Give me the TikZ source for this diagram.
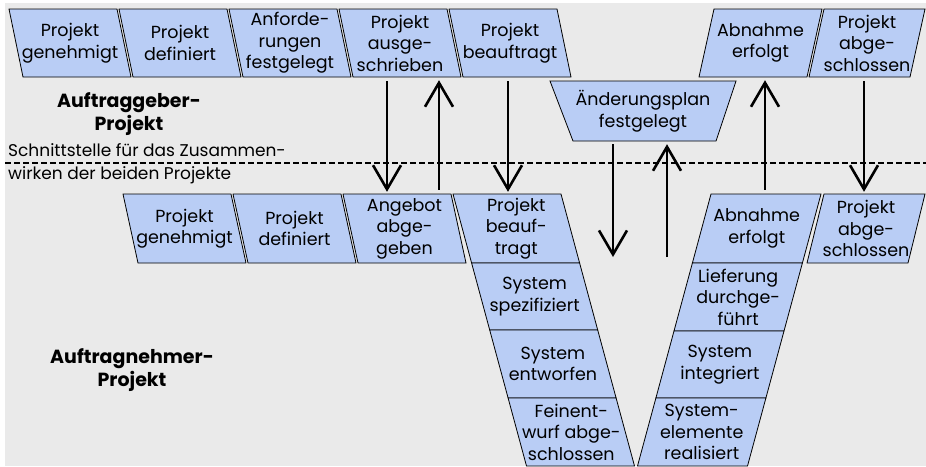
\documentclass[tikz,border=0pt]{standalone}
\usepackage{fontspec}
\setmainfont{Poppins}
\usetikzlibrary{arrows.meta}
\definecolor{bg}{RGB}{234,234,234}
\definecolor{boxblue}{RGB}{185,205,245}
\newcommand\pbox[7]{%
  \draw[box] (#2,#3) -- ++(#4,0) -- ++(#6,#5) -- ++(-#4,0) -- cycle;
  \node[lbl, minimum height=#5pt] (#1) at ({#2+#4/2+#6/2},{#3+#5/2}) {#7};
}
\begin{document}
\begin{tikzpicture}[x=1pt,y=-1pt,
  box/.style={draw=black, fill=boxblue, line width=0.8pt, line join=miter},
  lbl/.style={align=center, font=\fontsize{17.5}{21.5}\selectfont, inner sep=0pt},
  bold/.style={align=center, font=\fontsize{19}{23}\selectfont\bfseries, inner sep=0pt},
  arr/.style={line width=2.6pt, -{Straight Barb[length=24pt,width=28pt,line width=2.6pt]}},
  dashline/.style={line width=1.6pt, dash pattern=on 6pt off 3pt}]
\useasboundingbox (0,0) rectangle (926,466);
\fill[bg] (5,3) rectangle (926,466);
\draw[dashline] (5,163) -- (926,163);
\node[align=left, anchor=west, font=\fontsize{17}{23}\selectfont, inner sep=0pt] (iface) at (8,164) {Schnittstelle für das Zusammen-\\wirken der beiden Projekte};
\node[bold] (ag) at (129,114) {Auftraggeber-\\Projekt};
\node[bold] (an) at (132,370) {Auftragnehmer-\\Projekt};
% top row
\pbox{t1}{9}{9}{108}{68}{14}{Projekt\\genehmigt}
\pbox{t2}{119}{9}{108}{68}{14}{Projekt\\definiert}
\pbox{t3}{229}{9}{108}{68}{14}{Anforde-\\rungen\\festgelegt}
\pbox{t4}{339}{9}{108}{68}{14}{Projekt\\ausge-\\schrieben}
\pbox{t5}{449}{9}{108}{68}{14}{Projekt\\beauftragt}
\pbox{t6}{714}{9}{108}{68}{-15}{Abnahme\\erfolgt}
\pbox{t7}{824}{9}{101}{68}{-15}{Projekt\\abge-\\schlossen}
% change plan
\draw[box] (550,81) -- (736,81) -- (716,141) -- (573,141) -- cycle;
\node[lbl, minimum height=60pt] (aend) at (643,111) {Änderungsplan\\festgelegt};
% lower row
\pbox{l1}{123}{194}{108}{69}{15}{Projekt\\genehmigt}
\pbox{l2}{233}{194}{108}{69}{15}{Projekt\\definiert}
\pbox{l3}{343}{194}{108}{69}{15}{Angebot\\abge-\\geben}
\pbox{l4}{453}{194}{108}{69}{18.6}{Projekt\\beauf-\\tragt}
\pbox{v1}{471.6}{263}{108}{67}{18.1}{System\\spezifiziert}
\pbox{v2}{489.7}{330}{108}{68}{18.4}{System\\entworfen}
\pbox{v3}{508.1}{398}{108}{68}{18.4}{Feinent-\\wurf abge-\\schlossen}
\pbox{r1}{711}{194}{110}{69}{-18.6}{Abnahme\\erfolgt}
\pbox{r2}{692.4}{263}{110}{68}{-18.4}{Lieferung\\durchge-\\führt}
\pbox{r3}{674}{331}{110}{67}{-18.1}{System\\integriert}
\pbox{r4}{655.9}{398}{110}{68}{-18.4}{System-\\elemente\\realisiert}
\pbox{l7}{824}{194}{101}{69}{-17}{Projekt\\abge-\\schlossen}
% arrows
\coordinate (ax1) at (387,0);
\coordinate (ax2) at (439,0);
\coordinate (ax3) at (508,0);
\coordinate (ax6) at (765,0);
\coordinate (ax7) at (864,0);
\coordinate (e4) at (613,257);
\coordinate (e5) at (667,257);
\draw[arr, shorten <=4pt, shorten >=2pt] (t4.south -| ax1) -- (l3.north -| ax1);
\draw[arr, shorten <=4pt, shorten >=3pt] (l3.north -| ax2) -- (t4.south -| ax2);
\draw[arr, shorten <=4pt, shorten >=2pt] (t5.south -| ax3) -- (l4.north -| ax3);
\draw[arr, shorten <=3pt] (aend.south -| e4) -- (e4);
\draw[arr, shorten >=3pt] (e5) -- (aend.south -| e5);
\draw[arr, shorten <=4pt, shorten >=3pt] (r1.north -| ax6) -- (t6.south -| ax6);
\draw[arr, shorten <=4pt, shorten >=2pt] (t7.south -| ax7) -- (l7.north -| ax7);
\end{tikzpicture}
\end{document}
